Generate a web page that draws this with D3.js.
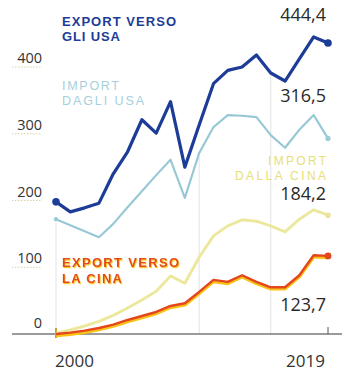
<!DOCTYPE html>
<html>
<head>
<meta charset="utf-8">
<script src="https://cdn.jsdelivr.net/npm/d3@7"></script>
<style>
  html, body { margin: 0; padding: 0; background: #fff; }
  svg text { font-family: "Open Sans", "DejaVu Sans", sans-serif; }
  svg text.name { font-family: "Liberation Sans", Arial, sans-serif; }
</style>
</head>
<body>
<div id="chart"></div>
<script>
  // data (miliardi)
  var years = d3.range(2000, 2020)
  var exportUsa = [198, 183, 189, 196, 240, 273, 321, 301, 348, 250, 313, 375, 395, 400, 418, 391, 379, 412, 445, 436]
  var importUsa = [172, 163, 154, 145, 165, 190, 214, 238, 261, 204, 271, 310, 328, 327, 325, 298, 279, 306, 328, 293]
  var importCina = [1, 6, 12, 19, 28, 39, 51, 64, 87, 76, 115, 147, 162, 171, 169, 162, 153, 172, 186, 178]
  var exportCina = [0, 2, 5, 9, 14, 21, 27, 33, 42, 46, 63, 81, 78, 88, 78, 70, 70, 88, 118, 117]
  var yTicks = [0, 100, 200, 300, 400]
  var xLabels = [2000, 2019]
  var guideYears = [2000, 2010, 2015]
  var endLabels = ["444,4", "316,5", "184,2", "123,7"]

  var width = 349
    , height = 371

  var svg = d3.select("#chart")
    .append("svg")
      .attr("width", width)
      .attr("height", height)

  // yellow glow for the red label
  var glow = svg.append("defs")
    .append("filter")
      .attr("id", "glow")
      .attr("x", "-5%").attr("y", "-20%")
      .attr("width", "110%").attr("height", "150%")
  glow.append("feDropShadow")
    .attr("dx", 0.8)
    .attr("dy", 1.2)
    .attr("stdDeviation", 0.6)
    .attr("flood-color", "#f7c418")
    .attr("flood-opacity", 1)

  var x = d3.scaleLinear().domain([2000, 2019]).range([56, 328])
  var y = d3.scaleLinear().domain([0, 400]).range([334, 67])

  var line = function (values) {
    return d3.line()
      .x(function (d, i) { return x(years[i]) })
      .y(function (d) { return y(d) })(values)
  }

  // faint vertical guides
  svg.selectAll(".guide")
      .data(guideYears)
    .enter().append("line")
      .attr("x1", function (d) { return x(d) })
      .attr("x2", function (d) { return x(d) })
      .attr("y1", y(0))
      .attr("y2", function (d) { return d === 2015 ? y(395) : y(importUsa[d - 2000]) + 4 })
      .attr("stroke", "#e2e2e2")
      .attr("stroke-width", 1)

  // y ticks: label plus a short dotted stub
  svg.selectAll(".ystub")
      .data(yTicks.filter(function (d) { return d > 0 }))
    .enter().append("line")
      .attr("x1", 12)
      .attr("x2", 42)
      .attr("y1", function (d) { return y(d) })
      .attr("y2", function (d) { return y(d) })
      .attr("stroke", "#d8d3a8")
      .attr("stroke-width", 1)
      .attr("stroke-dasharray", "1.5,1.5")

  svg.selectAll(".ylab")
      .data(yTicks)
    .enter().append("text")
      .attr("x", 42)
      .attr("y", function (d) { return d === 0 ? y(d) - 6 : y(d) - 4 })
      .attr("text-anchor", "end")
      .attr("font-size", "14.5px")
      .attr("fill", "#333")
      .text(function (d) { return d })

  // baseline
  svg.append("line")
    .attr("x1", 12).attr("x2", 342)
    .attr("y1", y(0)).attr("y2", y(0))
    .attr("stroke", "#7a7a7a")
    .attr("stroke-width", 1.5)

  svg.append("line")
    .attr("x1", x(2019)).attr("x2", x(2019))
    .attr("y1", y(0) - 7).attr("y2", y(0))
    .attr("stroke", "#555")
    .attr("stroke-width", 1)

  svg.append("line")
    .attr("x1", x(2000)).attr("x2", x(2000))
    .attr("y1", y(0) - 6).attr("y2", y(0) + 4)
    .attr("stroke", "#c9a020")
    .attr("stroke-width", 2)

  svg.selectAll(".xlab")
      .data(xLabels)
    .enter().append("text")
      .attr("x", function (d) { return d === 2000 ? x(d) - 1 : x(d) - 3 })
      .attr("y", 367)
      .attr("text-anchor", function (d) { return d === 2000 ? "start" : "end" })
      .attr("font-size", "17px")
      .attr("fill", "#333")
      .text(function (d) { return d })

  // import dalla Cina (pale yellow)
  svg.append("path")
    .attr("d", line(importCina))
    .attr("fill", "none")
    .attr("stroke", "#eeeaa2")
    .attr("stroke-width", 3)
    .attr("stroke-linejoin", "round")
  svg.append("path")
    .attr("d", line(importCina))
    .attr("fill", "none")
    .attr("stroke", "#e3dc80")
    .attr("stroke-width", 1)
    .attr("stroke-dasharray", "1,2")

  // import dagli USA (light teal)
  svg.append("path")
    .attr("d", line(importUsa))
    .attr("fill", "none")
    .attr("stroke", "#9ccbd8")
    .attr("stroke-width", 2.2)
    .attr("stroke-linejoin", "round")
  svg.append("path")
    .attr("d", line(importUsa))
    .attr("fill", "none")
    .attr("stroke", "#7fb7c6")
    .attr("stroke-width", 0.8)
    .attr("stroke-dasharray", "1,2")

  // export verso la Cina: yellow glow under red
  svg.append("path")
    .attr("d", line(exportCina))
    .attr("transform", "translate(0,1.5)")
    .attr("fill", "none")
    .attr("stroke", "#f8c316")
    .attr("stroke-width", 3.5)
    .attr("stroke-linejoin", "round")
  svg.append("path")
    .attr("d", line(exportCina))
    .attr("fill", "none")
    .attr("stroke", "#e5471c")
    .attr("stroke-width", 2.4)
    .attr("stroke-linejoin", "round")

  // export verso gli USA (dark blue)
  svg.append("path")
    .attr("d", line(exportUsa))
    .attr("fill", "none")
    .attr("stroke", "#1d3c97")
    .attr("stroke-width", 3.2)
    .attr("stroke-linejoin", "round")

  // end / start dots
  var dots = [
    {s: exportUsa, i: 0, r: 3.8, c: "#1d3c97"}
  , {s: exportUsa, i: 19, r: 3.8, c: "#1d3c97"}
  , {s: importUsa, i: 0, r: 2.2, c: "#9ccbd8"}
  , {s: importUsa, i: 19, r: 2.6, c: "#9ccbd8"}
  , {s: importCina, i: 19, r: 2.8, c: "#e9e49a"}
  , {s: exportCina, i: 19, r: 3.4, c: "#e5471c"}
  ]
  svg.selectAll(".dot")
      .data(dots)
    .enter().append("circle")
      .attr("cx", function (d) { return x(years[d.i]) })
      .attr("cy", function (d) { return y(d.s[d.i]) })
      .attr("r", function (d) { return d.r })
      .attr("fill", function (d) { return d.c })

  // value labels
  svg.selectAll(".vlab")
      .data(endLabels)
    .enter().append("text")
      .attr("x", 326)
      .attr("y", function (d, i) { return [21, 102, 200, 311][i] })
      .attr("text-anchor", "end")
      .attr("font-size", "18px")
      .attr("fill", "#2a2a2a")
      .text(function (d) { return d })

  // series names, one text per line, each stretched to the width seen in print
  function label (lines, lens, xPos, yPos, opts) {
    lines.forEach(function (l, i) {
      var t = svg.append("text")
        .attr("class", "name")
        .attr("x", opts.right ? xPos - lens[i] : xPos)
        .attr("y", yPos + i * opts.lead)
        .attr("font-size", opts.size)
        .attr("font-weight", opts.weight)
        .attr("textLength", lens[i])
        .attr("lengthAdjust", "spacing")
        .attr("fill", opts.fill)
        .text(l)
      if (opts.filter) t.attr("filter", opts.filter)
    })
  }

  label(["EXPORT VERSO", "GLI USA"], [114, 58], 62, 26, {size: "13px", weight: 700, fill: "#1d3c97", lead: 14.6})
  label(["IMPORT", "DAGLI USA"], [57, 82], 62, 90, {size: "12.5px", weight: 400, fill: "#a6cfdb", lead: 15})
  label(["IMPORT", "DALLA CINA"], [58, 91], 326, 165, {size: "12px", weight: 400, fill: "#e6de78", lead: 15, right: true})
  label(["EXPORT VERSO", "LA CINA"], [117, 60], 62, 267, {size: "13px", weight: 700, fill: "#e5471c", lead: 16, filter: "url(#glow)"})
</script>
</body>
</html>
